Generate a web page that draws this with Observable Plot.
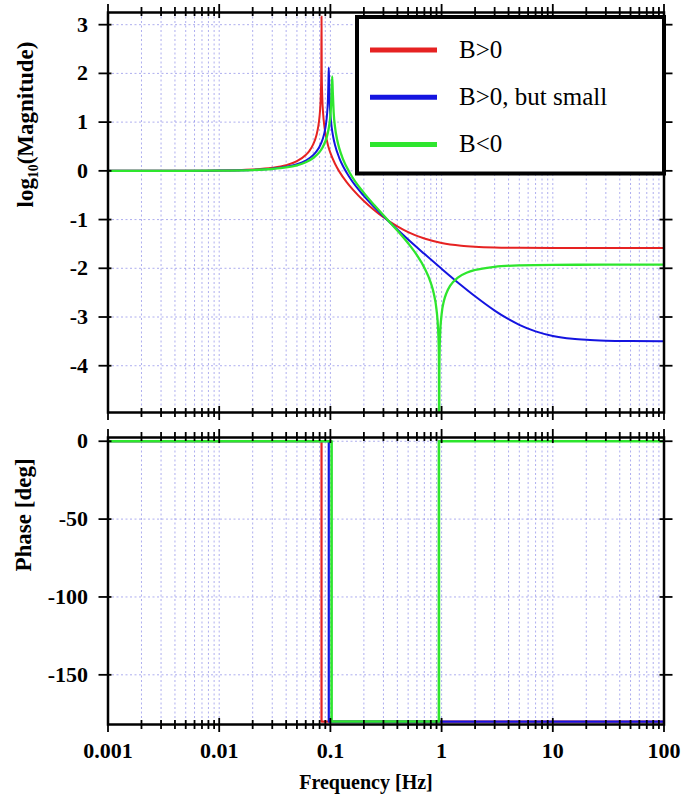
<!DOCTYPE html>
<html>
<head>
<meta charset="utf-8">
<script src="https://cdn.jsdelivr.net/npm/d3@7"></script>
<script src="https://cdn.jsdelivr.net/npm/@observablehq/plot@0.6"></script>
<style>
  body { margin: 0; background: #fff; }
  #wrap { position: relative; width: 694px; height: 805px; overflow: hidden; }
  #wrap svg { display: block; }
  #wrap text { font-family: "Liberation Serif", "Times New Roman", Tinos, "DejaVu Serif", "Noto Serif", serif !important; }
</style>
</head>
<body>
<div id="wrap"></div>
<script>
// ---------- data ----------
const seriesNames = ["B>0", "B>0, but small", "B<0"];
const seriesColors = ["#e62222", "#1414e0", "#2ee62e"];

const redF = [0.001, 0.005, 0.01, 0.02, 0.03, 0.04, 0.05, 0.06, 0.065, 0.07, 0.075, 0.078, 0.08, 0.081, 0.082, 0.0828, 0.0832, 0.0836, 0.0845, 0.086, 0.088, 0.09, 0.095, 0.1, 0.11, 0.12, 0.14, 0.16, 0.2, 0.25, 0.3, 0.4, 0.5, 0.7, 1, 1.5, 2, 3, 5, 10, 30, 100];
const redMag = [0, 0.002, 0.006, 0.027, 0.062, 0.117, 0.199, 0.325, 0.416, 0.542, 0.736, 0.927, 1.133, 1.293, 1.553, 2.03, 3.17, 2.03, 1.513, 1.177, 0.938, 0.782, 0.532, 0.368, 0.145, -0.011, -0.232, -0.391, -0.619, -0.813, -0.953, -1.14, -1.258, -1.39, -1.48, -1.535, -1.556, -1.572, -1.58, -1.584, -1.585, -1.585];

const blueF = [0.001, 0.005, 0.01, 0.02, 0.03, 0.04, 0.05, 0.06, 0.07, 0.075, 0.08, 0.085, 0.09, 0.093, 0.095, 0.096, 0.0967, 0.0975, 0.099, 0.1, 0.103, 0.106, 0.11, 0.12, 0.13, 0.15, 0.2, 0.25, 0.3, 0.4, 0.5, 0.7, 1, 1.5, 2, 3, 4, 5, 7, 10, 15, 20, 30, 50, 100];
const blueMag = [0, 0.001, 0.005, 0.019, 0.044, 0.082, 0.135, 0.211, 0.322, 0.4, 0.501, 0.643, 0.873, 1.125, 1.457, 1.84, 2.12, 1.78, 1.318, 1.158, 0.871, 0.695, 0.532, 0.268, 0.093, -0.148, -0.515, -0.754, -0.933, -1.206, -1.41, -1.704, -2.01, -2.348, -2.575, -2.868, -3.045, -3.161, -3.295, -3.388, -3.447, -3.469, -3.486, -3.495, -3.499];

const greenF = [0.001, 0.005, 0.01, 0.02, 0.03, 0.04, 0.05, 0.06, 0.07, 0.08, 0.085, 0.09, 0.095, 0.098, 0.1, 0.102, 0.1038, 0.105, 0.107, 0.11, 0.115, 0.12, 0.13, 0.15, 0.2, 0.25, 0.3, 0.4, 0.5, 0.6, 0.7, 0.8, 0.85, 0.9, 0.93, 0.94, 0.946, 0.9505, 0.955, 0.96, 0.97, 1.0, 1.05, 1.1, 1.2, 1.4, 1.7, 2, 3, 5, 10, 30, 100];
const greenMag = [0, 0.001, 0.004, 0.016, 0.038, 0.069, 0.113, 0.175, 0.263, 0.389, 0.48, 0.603, 0.788, 0.961, 1.14, 1.46, 1.94, 1.63, 1.198, 0.904, 0.637, 0.466, 0.237, -0.048, -0.453, -0.712, -0.912, -1.226, -1.487, -1.731, -1.987, -2.299, -2.515, -2.847, -3.248, -3.525, -3.851, -6, -4.06, -3.677, -3.343, -2.944, -2.668, -2.52, -2.352, -2.191, -2.086, -2.035, -1.97, -1.94, -1.929, -1.926, -1.925];

const redPhaseF = [0.001, 0.0832, 0.0832, 100];
const redPhase = [0, 0, -180, -180];
const bluePhaseF = [0.001, 0.0967, 0.0967, 100];
const bluePhase = [0, 0, -180, -180];
const greenPhaseF = [0.001, 0.1025, 0.1025, 0.946, 0.946, 100];
const greenPhase = [0, 0, -180, -180, 0, 0];

const decades = [0.001, 0.01, 0.1, 1, 10, 100];
const decadeLabels = ["0.001", "0.01", "0.1", "1", "10", "100"];
const magTicks = [3, 2, 1, 0, -1, -2, -3, -4];
const magLabels = ["3", "2", "1", "0", "-1", "-2", "-3", "-4"];
const phaseTicks = [0, -50, -100, -150];
const phaseLabels = ["0", "-50", "-100", "-150"];

// ---------- helpers ----------
const minors = [];
for (let k = -3; k <= 1; k++) for (let m = 2; m <= 9; m++) minors.push(+(m * Math.pow(10, k)).toPrecision(3));
const gridX = decades.concat(minors);
const rows = (F, V) => F.map((f, i) => ({f, v: V[i]}));

const FONT = "Liberation Serif, Times New Roman, Tinos, DejaVu Serif, Noto Serif, serif";
const W = 694, ML = 107.5, MR = 30.5;
const innerW = W - ML - MR;
const gridStyle = {stroke: "#8c8ce8", strokeOpacity: 0.7, strokeDasharray: "2,2.5", strokeWidth: 1};

function frameTicks(innerH, yT) {
  const s = {stroke: "black", strokeWidth: 1.8};
  return [
    Plot.ruleX(decades, {...s, insetTop: innerH - 6, insetBottom: -8}),
    Plot.ruleX(minors, {...s, insetTop: innerH - 4, insetBottom: -5}),
    Plot.ruleX(decades, {...s, insetBottom: innerH - 6, insetTop: -8}),
    Plot.ruleX(minors, {...s, insetBottom: innerH - 4, insetTop: -5}),
    Plot.ruleY(yT, {...s, insetLeft: -9, insetRight: innerW - 4}),
    Plot.ruleY(yT, {...s, insetRight: -9, insetLeft: innerW - 4})
  ];
}

// ---------- top panel: magnitude ----------
const topH = 420, topMT = 12, topMB = 8;
const magSets = [rows(redF, redMag), rows(blueF, blueMag), rows(greenF, greenMag)];
const topPlot = Plot.plot({
  width: W, height: topH,
  marginLeft: ML, marginRight: MR, marginTop: topMT, marginBottom: topMB,
  style: {fontFamily: FONT, background: "white", color: "black"},
  x: {type: "log", domain: [0.001, 100], axis: null},
  y: {domain: [-4.96, 3.25], axis: null},
  marks: [
    Plot.ruleX(gridX, gridStyle),
    Plot.ruleY(magTicks, gridStyle),
    ...magSets.map((d, i) => Plot.line(d, {x: "f", y: "v", stroke: seriesColors[i], strokeWidth: [2, 2, 2.3][i], curve: "monotone-x", clip: true})),
    Plot.frame({stroke: "black", strokeWidth: 2.5}),
    ...frameTicks(topH - topMT - topMB, magTicks),
    Plot.text(magTicks, {y: d => d, text: (d, i) => magLabels[i], frameAnchor: "left", textAnchor: "end", dx: -20, fontSize: 22, fontWeight: "bold"}),
    Plot.text(["log\u2081\u2080(Magnitude)"], {frameAnchor: "left", rotate: -90, dx: -82, dy: -5, fontSize: 23, fontWeight: "bold"})
  ]
});

// ---------- bottom panel: phase ----------
const botH = 385, botMT = 17, botMB = 81;
const phaseSets = [rows(redPhaseF, redPhase), rows(bluePhaseF, bluePhase), rows(greenPhaseF, greenPhase)];
const botPlot = Plot.plot({
  width: W, height: botH,
  marginLeft: ML, marginRight: MR, marginTop: botMT, marginBottom: botMB,
  style: {fontFamily: FONT, background: "white", color: "black"},
  x: {type: "log", domain: [0.001, 100], axis: null},
  y: {domain: [-181.9, 2.4], axis: null},
  marks: [
    Plot.ruleX(gridX, gridStyle),
    Plot.ruleY(phaseTicks, gridStyle),
    ...phaseSets.map((d, i) => Plot.line(d, {x: "f", y: "v", stroke: seriesColors[i], strokeWidth: [2.2, 2.2, 2.6][i], clip: true})),
    Plot.frame({stroke: "black", strokeWidth: 2.5}),
    ...frameTicks(botH - botMT - botMB, phaseTicks),
    Plot.text(phaseTicks, {y: d => d, text: (d, i) => phaseLabels[i], frameAnchor: "left", textAnchor: "end", dx: -20, fontSize: 22, fontWeight: "bold"}),
    Plot.text(decades, {x: d => d, text: (d, i) => decadeLabels[i], frameAnchor: "bottom", dy: 33.5, fontSize: 22, fontWeight: "bold"}),
    Plot.text(["Phase [deg]"], {frameAnchor: "left", rotate: -90, dx: -84, dy: -9.5, fontSize: 23, fontWeight: "bold"}),
    Plot.text(["Frequency [Hz]"], {frameAnchor: "bottom", dx: -20, dy: 64, fontSize: 20, fontWeight: "bold"})
  ]
});

const wrap = document.getElementById("wrap");
wrap.appendChild(topPlot);
wrap.appendChild(botPlot);

// ---------- legend (overlaid box, top right of magnitude panel) ----------
const leg = d3.select(wrap).append("svg")
  .attr("width", 314).attr("height", 164)
  .style("position", "absolute").style("left", "354px").style("top", "14px");
leg.append("rect").attr("x", 3).attr("y", 3).attr("width", 307).attr("height", 156.5)
  .attr("fill", "white").attr("stroke", "black").attr("stroke-width", 4);
seriesNames.forEach((name, i) => {
  const cy = 36 + i * 47.2;
  leg.append("line").attr("x1", 16).attr("x2", 83).attr("y1", cy).attr("y2", cy)
    .attr("stroke", seriesColors[i]).attr("stroke-width", 5);
  leg.append("text").attr("x", 105).attr("y", cy + 7.5)
    .attr("font-size", 25).attr("fill", "black").text(name);
});
</script>
</body>
</html>
